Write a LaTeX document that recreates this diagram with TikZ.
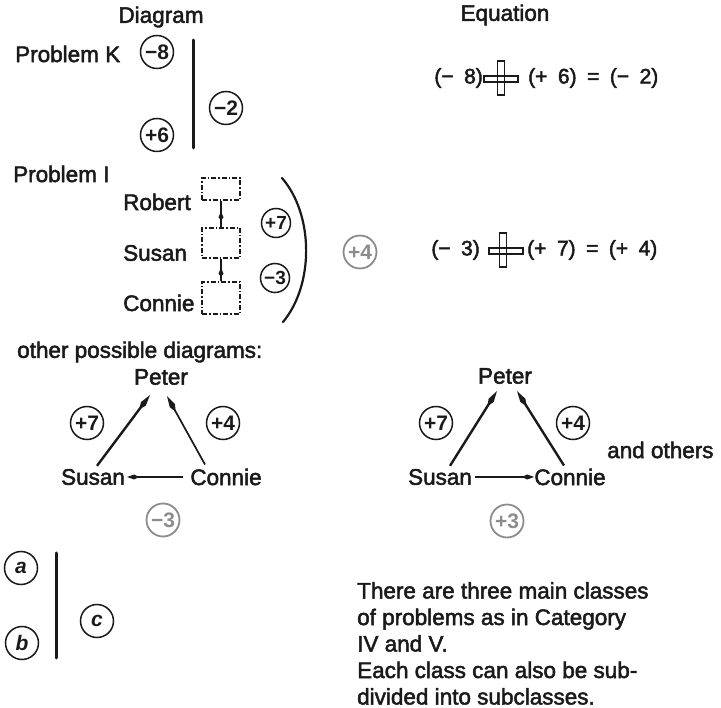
\documentclass[tikz,border=0pt]{standalone}
\usepackage{fontspec}
\setmainfont{Liberation Sans}
\newfontfamily\medfont{Liberation Sans}[BoldFont={Liberation Sans},
  BoldFeatures={FakeBold=2.2}]
\usetikzlibrary{arrows.meta}
\usetikzlibrary{positioning}
\usetikzlibrary{decorations.markings}
\usepackage{xcolor}
\definecolor{ink}{HTML}{1A1A1A}
\definecolor{faded}{HTML}{8C8C8C}

\begin{document}
\begin{tikzpicture}[x=1pt, y=-1pt,
    txt/.style={font=\fontsize{22.5}{26}\selectfont\medfont\bfseries, text=ink, inner sep=0pt},
    eq/.style={font=\fontsize{21}{24}\selectfont\medfont\bfseries, text=ink, inner sep=0pt},
    num/.style={circle, draw=ink, line width=1.5pt, minimum size=33pt, inner sep=0pt,
      font=\fontsize{21}{22}\selectfont\bfseries, text=ink},
    numsm/.style={num, minimum size=29pt, font=\fontsize{19}{20}\selectfont\bfseries},
    ghost/.style={num, draw=faded, text=faded, line width=1.8pt},
    letter/.style={num, font=\fontsize{21}{22}\selectfont\bfseries\itshape},
    bar/.style={line width=3pt, draw=ink, line cap=round},
    slot/.style={rectangle, draw=ink, line width=1.2pt, minimum width=38pt,
      dash pattern=on 5pt off 2pt on 1.5pt off 2pt, inner sep=0pt},
    upmark/.style={line width=1.2pt, draw=ink, decoration={markings,
        mark=at position 0.6 with {\arrow{Kite[length=9pt,width=5pt,inset=3pt]}}},
      postaction={decorate}},
    move/.style={-{Kite[length=18pt,width=6pt,inset=7pt]}, line width=2.4pt, draw=ink},
    movethin/.style={move, line width=1.7pt},
    moveh/.style={-{Kite[length=12pt,width=5pt,inset=5pt]}, line width=1.8pt, draw=ink},
    crossv/.style={rectangle, draw=ink, line width=1.3pt, minimum width=7pt,
      minimum height=34pt, inner sep=0pt},
    crossh/.style={rectangle, draw=ink, line width=1.3pt, minimum width=34pt,
      minimum height=6pt, inner sep=0pt},
  ]

    \useasboundingbox (0,0) rectangle (721,708);

    % Column heads
    \node[txt] (hdiag) at (161,17) {Diagram};
    \node[txt] (heq)   at (505,15) {Equation};

    % Problem K
    \node[txt, anchor=west] (probk) at (15,54) {Problem K};
    \node[num] (k1) at (157,52)  {−8};
    \node[num] (k2) at (157,135) {+6};
    \node[num] (k3) at (226,108) {−2};
    \coordinate (kt) at (193,40);
    \coordinate (kb) at (193,148);
    \draw[bar] (kt) -- (kb);

    \node[eq, anchor=east] (e1l) at (483,78) {(−\enspace 8)};
    \node[crossv] (e1v) at (501,78) {};
    \node[crossh] (e1h) at (501,79) {};
    \node[eq, anchor=west] (e1r) at (528,78)
      {(+\enspace 6)\enspace=\enspace(−\enspace 2)};

    % Problem I
    \node[txt, anchor=west] (probi) at (13,174) {Problem I};
    \node[slot, minimum height=22pt] (bob) at (221,189) {};
    \node[slot, minimum height=30pt] (sue) at (221,243) {};
    \node[slot, minimum height=32pt] (con) at (221,298) {};
    \node[txt, anchor=west] (lbob) at (123,202) {Robert};
    \node[txt, anchor=west] (lsue) at (123,253) {Susan};
    \node[txt, anchor=west] (lcon) at (123,303) {Connie};
    \draw[upmark] (con.north) -- (sue.south);
    \draw[upmark] (sue.north) -- (bob.south);

    \node[numsm] (i1) at (276,223) {+7};
    \node[numsm] (i2) at (275,278) {−3};
    \coordinate (pt) at (282,178);
    \coordinate (pb) at (283,322);
    \draw[line width=2.2pt, draw=ink, line cap=round]
      (pt) .. controls (314,215) and (314,285) .. (pb);
    \node[ghost] (i3) at (360,252) {+4};

    \node[eq, anchor=east] (e2l) at (480,250) {(−\enspace 3)};
    \node[crossv] (e2v) at (503,250) {};
    \node[crossh] (e2h) at (506,251) {};
    \node[eq, anchor=west] (e2r) at (527,250)
      {(+\enspace 7)\enspace=\enspace(+\enspace 4)};

    % Other possible diagrams
    \node[txt, anchor=west] (other) at (17,352) {other possible diagrams:};

    \node[txt] (pet1) at (161,377) {Peter};
    \node[txt] (sus1) at (93,477)  {Susan};
    \node[txt] (con1) at (226,477) {Connie};
    \draw[move] ([xshift=4pt,yshift=3pt]sus1.north) -- ([xshift=-11pt,yshift=-10pt]pet1.south);
    \draw[movethin] ([xshift=-21pt,yshift=4pt]con1.north) -- ([xshift=6pt,yshift=-11pt]pet1.south);
    \draw[moveh] ([xshift=-7pt]con1.west) -- ([xshift=2pt]sus1.east);
    \node[num] (t1a) at (87,423)  {+7};
    \node[num] (t1b) at (223,423) {+4};
    \node[ghost] (t1c) at (163,520) {−3};

    \node[txt] (pet2) at (505,376) {Peter};
    \node[txt] (sus2) at (440,477) {Susan};
    \node[txt] (con2) at (570,477) {Connie};
    \draw[move] ([xshift=10pt,yshift=3pt]sus2.north) -- ([xshift=-8pt,yshift=-7pt]pet2.south);
    \draw[move] ([xshift=-6pt,yshift=3pt]con2.north) -- ([xshift=12pt,yshift=-7pt]pet2.south);
    \draw[moveh] ([xshift=3pt]sus2.east) -- (con2.west);
    \node[num] (t2a) at (436,423) {+7};
    \node[num] (t2b) at (573,423) {+4};
    \node[ghost] (t2c) at (507,521) {+3};
    \node[txt, anchor=west] (others) at (607,450) {and others};

    % General form
    \node[letter] (ga) at (21,568) {a};
    \node[letter] (gb) at (22,643) {b};
    \node[letter] (gc) at (97,621) {c};
    \coordinate (gt) at (56,553);
    \coordinate (gbt) at (56,658);
    \draw[bar] (gt) -- (gbt);

    \node[txt, anchor=north west, align=left,
      font=\fontsize{22.5}{26.5}\selectfont\medfont\bfseries] (note) at (357,582)
      {There are three main classes\\of problems as in Category\\IV and V.\\
       Each class can also be sub-\\divided into subclasses.};

\end{tikzpicture}
\end{document}
